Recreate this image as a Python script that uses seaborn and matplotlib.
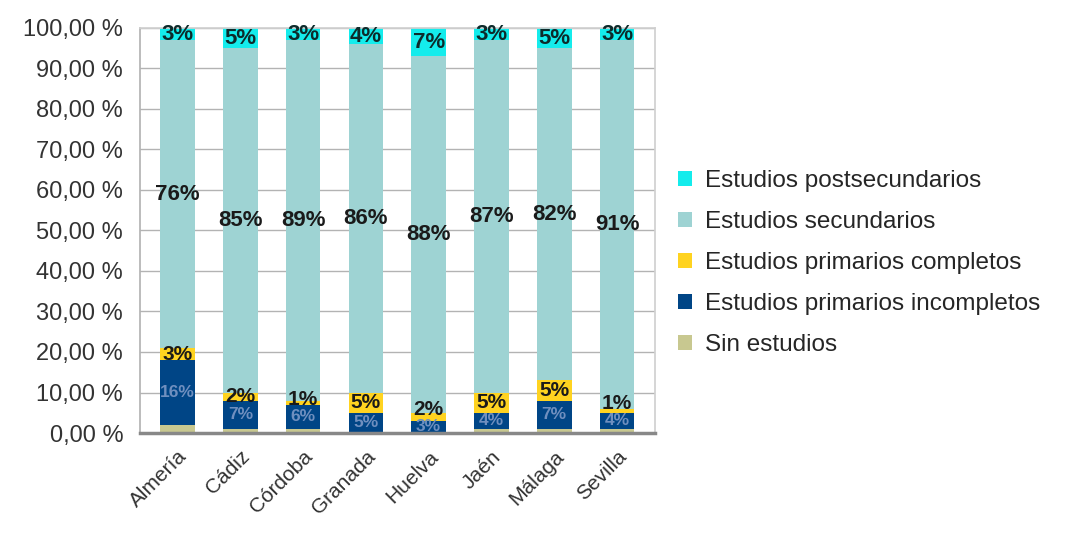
import matplotlib
matplotlib.use("Agg")
import matplotlib.pyplot as plt
import seaborn as sns
import numpy as np
import pandas as pd
from matplotlib.ticker import FuncFormatter

provincias = ['Almería', 'Cádiz', 'Córdoba', 'Granada', 'Huelva', 'Jaén', 'Málaga', 'Sevilla']
sin_estudios = [2, 1, 1, 0, 0, 1, 1, 1]
primarios_incompletos = [16, 7, 6, 5, 3, 4, 7, 4]
primarios_completos = [3, 2, 1, 5, 2, 5, 5, 1]
secundarios = [76, 85, 89, 86, 88, 87, 82, 91]
postsecundarios = [3, 5, 3, 4, 7, 3, 5, 3]

niveles = ['Sin estudios', 'Estudios primarios incompletos', 'Estudios primarios completos',
           'Estudios secundarios', 'Estudios postsecundarios']
valores = [sin_estudios, primarios_incompletos, primarios_completos, secundarios, postsecundarios]
colores = ['#c8c890', '#004586', '#ffd320', '#9ed3d3', '#14ecec']
color_etiqueta = [None, '#6f8fbf', '#1a1a1a', '#1a1a1a', '#0d2b2b']
tam_etiqueta = [None, 12.5, 15, 16, 16]

sns.set_theme(style="whitegrid")
plt.rcParams['font.family'] = ['Liberation Sans', 'DejaVu Sans']

fig = plt.figure(figsize=(10.68, 5.33), dpi=100)
ax = fig.add_axes([0.131, 0.1876, 0.482, 0.76])

df = pd.DataFrame({'provincia': provincias})
acumulado = np.zeros(len(provincias))
bases = []
for v in valores:
    bases.append(acumulado.copy())
    acumulado = acumulado + np.array(v)

# draw cumulative totals from the top layer down so each covers the one above
for i in range(len(niveles) - 1, -1, -1):
    df['total'] = bases[i] + np.array(valores[i])
    sns.barplot(data=df, x='provincia', y='total', order=provincias, color=colores[i],
                width=0.55, ax=ax, label=niveles[i], saturation=1, edgecolor='none')

for i in range(1, len(niveles)):
    for j, p in enumerate(provincias):
        v = valores[i][j]
        y = bases[i][j] + v / 2
        if i == 2:
            # keep the small "completos" labels clear of the label below
            y = max(y, bases[1][j] + valores[1][j] / 2 + 4.2)
        ax.text(j, y, f'{v}%', ha='center', va='center',
                fontsize=tam_etiqueta[i], fontweight='bold', color=color_etiqueta[i])

ax.set_ylim(0, 100)
ax.set_xlim(-0.6, len(provincias) - 0.4)
ax.set_yticks(np.arange(0, 101, 10))
ax.yaxis.set_major_formatter(FuncFormatter(lambda y, _: f'{y:.2f} %'.replace('.', ',')))
ax.grid(axis='y', color='#b3b3b3', linewidth=1)
ax.grid(axis='x', visible=False)
ax.set_xlabel('')
ax.set_ylabel('')
for s in ['top', 'right']:
    ax.spines[s].set_color('#d0d0d0')
ax.spines['left'].set_color('#b3b3b3')
ax.spines['bottom'].set_color('#888888')
ax.spines['bottom'].set_linewidth(2.5)
ax.tick_params(axis='y', labelsize=17, colors='#333333', pad=6)
ax.tick_params(axis='x', labelsize=15, colors='#333333', pad=4)
plt.setp(ax.get_xticklabels(), rotation=45, ha='right', rotation_mode='anchor')

handles, labels = ax.get_legend_handles_labels()
ax.legend(handles, labels, loc='center left', bbox_to_anchor=(1.045, 0.42), frameon=False,
          fontsize=17.5, handlelength=0.6, handleheight=0.6, handletextpad=0.5,
          labelspacing=0.78, borderaxespad=0, borderpad=0)

fig.savefig('out.png', dpi=100)
